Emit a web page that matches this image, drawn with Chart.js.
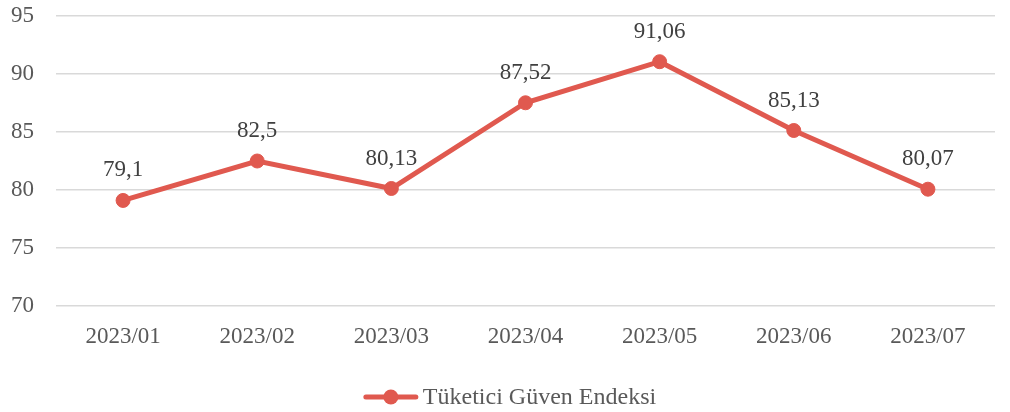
<!DOCTYPE html>
<html>
<head>
<meta charset="utf-8">
<script src="https://cdn.jsdelivr.net/npm/chart.js@4/dist/chart.umd.min.js"></script>
<style>
  html, body { margin: 0; padding: 0; background: #fff; }
  #wrap { width: 1010px; height: 412px; }
</style>
</head>
<body>
<div id="wrap"><canvas id="c"></canvas></div>
<script>
// data
const months = ['2023/01', '2023/02', '2023/03', '2023/04', '2023/05', '2023/06', '2023/07'];
const confidence = [79.1, 82.5, 80.13, 87.52, 91.06, 85.13, 80.07];
const seriesName = 'Tüketici Güven Endeksi';
const yTicks = [70, 75, 80, 85, 90, 95];

const lineColor = '#E0594F';
const fontFamily = '"Liberation Serif", "Times New Roman", serif';

// value labels above each point, comma as decimal mark
const valueLabels = {
    id: 'valueLabels',
    afterDatasetsDraw(chart) {
        const ctx = chart.ctx;
        const meta = chart.getDatasetMeta(0);
        ctx.save();
        ctx.font = '23px ' + fontFamily;
        ctx.fillStyle = '#404040';
        ctx.textAlign = 'center';
        ctx.textBaseline = 'middle';
        meta.data.forEach((pt, i) => {
            const txt = String(confidence[i]).replace('.', ',');
            ctx.fillText(txt, pt.x, pt.y - 30);
        });
        ctx.restore();
    }
};

// legend under the axis: line with a dot, then the series name
const bottomLegend = {
    id: 'bottomLegend',
    afterDraw(chart) {
        const ctx = chart.ctx;
        const ds = chart.data.datasets[0];
        ctx.save();
        ctx.font = '24px ' + fontFamily;
        const tw = ctx.measureText(ds.label).width;
        const total = 54 + 5 + tw;
        const x0 = chart.width / 2 + 5 - total / 2;
        const y = chart.chartArea.bottom + 91;
        ctx.strokeStyle = ds.borderColor;
        ctx.lineWidth = 5;
        ctx.lineCap = 'round';
        ctx.beginPath(); ctx.moveTo(x0 + 2, y); ctx.lineTo(x0 + 52, y); ctx.stroke();
        ctx.fillStyle = ds.borderColor;
        ctx.beginPath(); ctx.arc(x0 + 27, y, 7.5, 0, Math.PI * 2); ctx.fill();
        ctx.fillStyle = '#595959';
        ctx.textBaseline = 'middle';
        ctx.fillText(ds.label, x0 + 59, y + 1);
        ctx.restore();
    }
};

new Chart(document.getElementById('c'), {
    type: 'line',
    data: {
        labels: months,
        datasets: [{
            label: seriesName,
            data: confidence,
            borderColor: lineColor,
            backgroundColor: lineColor,
            borderWidth: 5,
            pointRadius: 7,
            pointBorderWidth: 1,
            pointBackgroundColor: lineColor,
            pointBorderColor: lineColor,
            tension: 0
        }]
    },
    options: {
        responsive: true,
        maintainAspectRatio: false,
        animation: false,
        layout: { padding: { left: 0, right: 15, top: 16, bottom: 46 } },
        plugins: {
            legend: { display: false },
            tooltip: { enabled: false }
        },
        scales: {
            x: {
                offset: true,
                grid: { display: false },
                border: { display: false },
                afterFit(scale) {
                    scale.paddingLeft = 0;
                    scale.paddingRight = 0;
                    scale.height = 60;
                },
                ticks: {
                    color: '#595959',
                    font: { family: fontFamily, size: 23 },
                    padding: 9
                }
            },
            y: {
                min: 70,
                max: 95,
                afterBuildTicks(scale) {
                    scale.ticks = yTicks.map(v => ({ value: v }));
                },
                afterFit(scale) {
                    scale.paddingTop = 0;
                    scale.paddingBottom = 0;
                    scale.width = 56;
                },
                grid: { color: '#D9D9D9', lineWidth: 1.5, drawTicks: false },
                border: { display: false },
                ticks: {
                    color: '#595959',
                    font: { family: fontFamily, size: 23 },
                    padding: 22
                }
            }
        }
    },
    plugins: [valueLabels, bottomLegend]
});
</script>
</body>
</html>
